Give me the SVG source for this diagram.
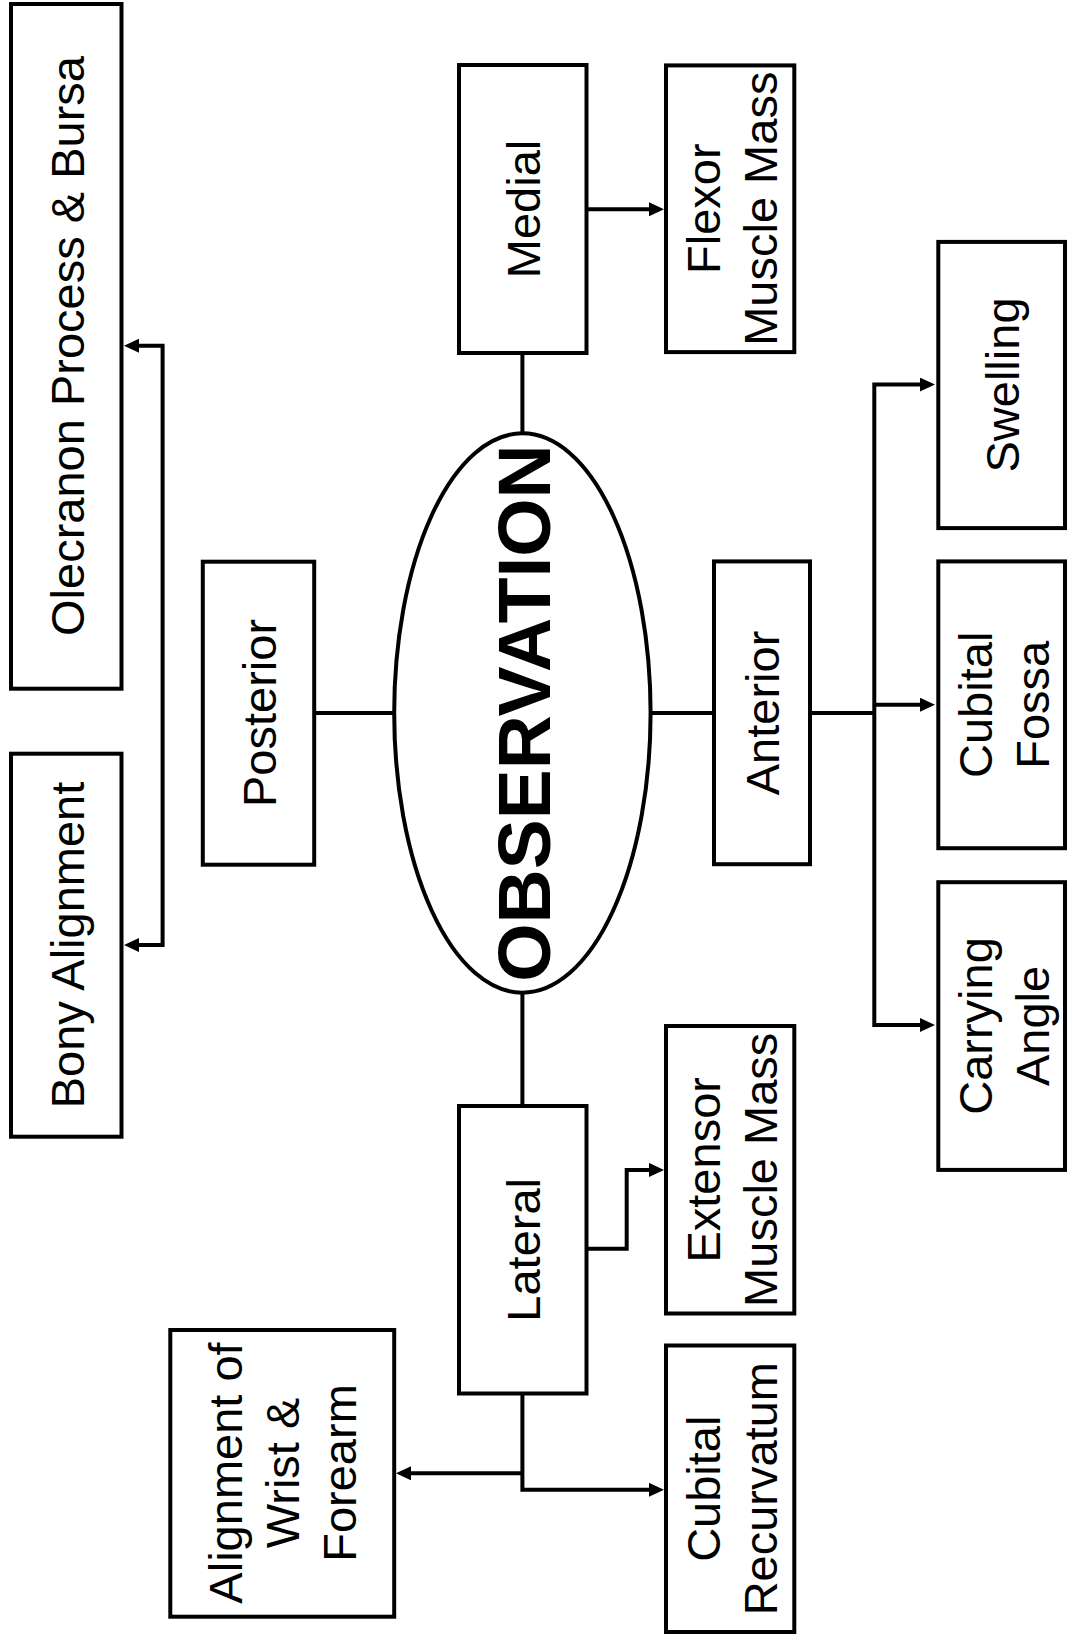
<svg xmlns="http://www.w3.org/2000/svg" width="1067" height="1640" viewBox="0 0 1067 1640">
<style>
.box{fill:#fff;stroke:#000;stroke-width:4}
.ln{fill:none;stroke:#000;stroke-width:4}
.ar{fill:none;stroke:#000;stroke-width:4;marker-end:url(#ah)}
text{font-family:"Liberation Sans",Arial,sans-serif;font-size:47px;fill:#000;text-anchor:middle}
.big{font-weight:bold;font-size:75px}
</style>
<defs>
<marker id="ah" markerUnits="userSpaceOnUse" markerWidth="16" markerHeight="14" refX="7" refY="7" orient="auto"><path d="M0,0 L15,7 L0,14 z" fill="#000"/></marker>
</defs>
<rect width="1067" height="1640" fill="#fff"/>
<g id="connectors">
<line class="ln" x1="394" y1="713" x2="203" y2="713"/>
<polyline class="ar" points="162.6,713 162.6,345.7 132,345.7"/>
<polyline class="ar" points="162.6,713 162.6,945 132,945"/>
<line class="ln" x1="522.4" y1="353" x2="522.4" y2="433"/>
<line class="ar" x1="586.5" y1="209.3" x2="656" y2="209.3"/>
<line class="ln" x1="650.7" y1="713" x2="714" y2="713"/>
<line class="ln" x1="810" y1="713" x2="874.3" y2="713"/>
<polyline class="ar" points="874.3,713 874.3,384.6 927,384.6"/>
<line class="ar" x1="874.3" y1="704.7" x2="927" y2="704.7"/>
<polyline class="ar" points="874.3,713 874.3,1025 927,1025"/>
<line class="ln" x1="522.4" y1="992.7" x2="522.4" y2="1106"/>
<polyline class="ar" points="586.5,1248.8 626.7,1248.8 626.7,1169.9 656,1169.9"/>
<polyline class="ar" points="522.4,1393.5 522.4,1489.8 656,1489.8"/>
<line class="ar" x1="522.4" y1="1473.3" x2="404" y2="1473.3"/>
</g>
<g id="observation">
<ellipse class="box" cx="522.4" cy="713" rx="128.2" ry="279.7"/>
<text class="big" transform="translate(549.5,713) rotate(-90)">OBSERVATION</text>
</g>
<g id="olecranon">
<rect class="box" x="11" y="4" width="110.5" height="684.7"/>
<text transform="translate(84,346) rotate(-90)">Olecranon Process &amp; Bursa</text>
</g>
<g id="bony">
<rect class="box" x="11" y="753.7" width="110.5" height="383"/>
<text transform="translate(84,945) rotate(-90)">Bony Alignment</text>
</g>
<g id="posterior">
<rect class="box" x="202.8" y="561.7" width="111.4" height="303"/>
<text transform="translate(275.5,713) rotate(-90)">Posterior</text>
</g>
<g id="medial">
<rect class="box" x="459" y="65" width="127.5" height="288"/>
<text transform="translate(539.7,209) rotate(-90)">Medial</text>
</g>
<g id="flexor">
<rect class="box" x="666" y="65.4" width="128.3" height="286.7"/>
<text transform="translate(720,208.7) rotate(-90)">Flexor</text>
<text transform="translate(777,208.7) rotate(-90)">Muscle Mass</text>
</g>
<g id="anterior">
<rect class="box" x="714" y="561.4" width="96" height="302.8"/>
<text transform="translate(779,713) rotate(-90)">Anterior</text>
</g>
<g id="swelling">
<rect class="box" x="938.3" y="241.9" width="126.7" height="286.2"/>
<text transform="translate(1019,385) rotate(-90)">Swelling</text>
</g>
<g id="cubitalfossa">
<rect class="box" x="938.3" y="561.4" width="126.7" height="286.8"/>
<text transform="translate(991.5,704.8) rotate(-90)">Cubital</text>
<text transform="translate(1048.5,704.8) rotate(-90)">Fossa</text>
</g>
<g id="carrying">
<rect class="box" x="938.3" y="882.2" width="126.7" height="287.7"/>
<text transform="translate(991.5,1026) rotate(-90)">Carrying</text>
<text transform="translate(1048.5,1026) rotate(-90)">Angle</text>
</g>
<g id="lateral">
<rect class="box" x="459" y="1106" width="127.5" height="287.5"/>
<text transform="translate(539.7,1249.8) rotate(-90)">Lateral</text>
</g>
<g id="extensor">
<rect class="box" x="666" y="1026" width="128.3" height="287.5"/>
<text transform="translate(720,1169.8) rotate(-90)">Extensor</text>
<text transform="translate(777,1169.8) rotate(-90)">Muscle Mass</text>
</g>
<g id="alignment">
<rect class="box" x="170.3" y="1330" width="223.9" height="286.7"/>
<text transform="translate(242.3,1473) rotate(-90)">Alignment of</text>
<text transform="translate(299.3,1473) rotate(-90)">Wrist &amp;</text>
<text transform="translate(356.3,1473) rotate(-90)">Forearm</text>
</g>
<g id="recurvatum">
<rect class="box" x="666" y="1345.5" width="128.3" height="286.5"/>
<text transform="translate(720,1488.7) rotate(-90)">Cubital</text>
<text transform="translate(777,1488.7) rotate(-90)">Recurvatum</text>
</g>
</svg>
